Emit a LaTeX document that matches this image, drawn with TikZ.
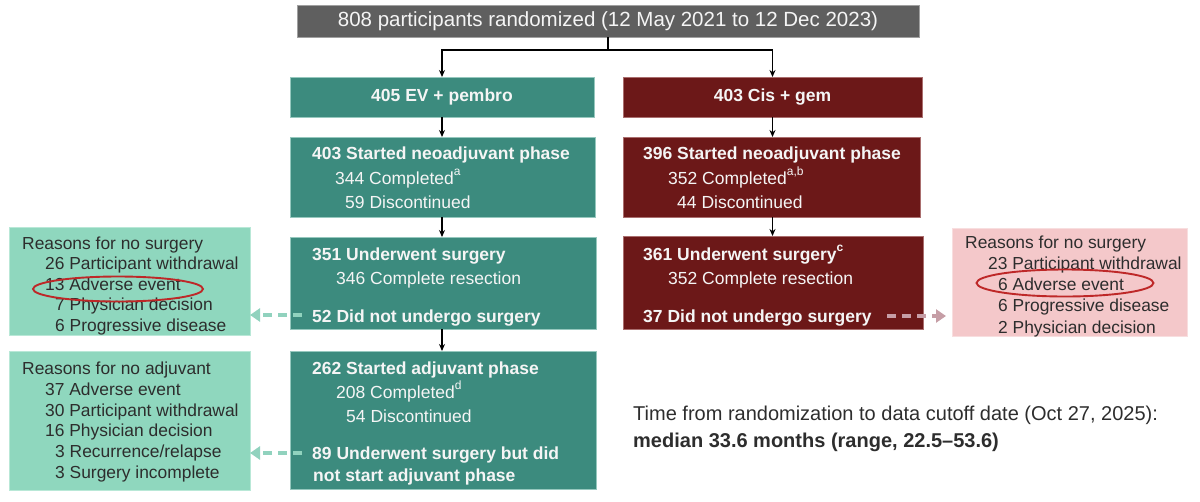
\documentclass[tikz,border=0pt]{standalone}
\usepackage{fontspec}
\setmainfont{Liberation Sans}
\usetikzlibrary{arrows.meta,shapes.geometric}
\definecolor{tealc}{RGB}{60,139,126}
\definecolor{tealedge}{RGB}{150,200,190}
\definecolor{redc}{RGB}{108,24,24}
\definecolor{rededge}{RGB}{170,110,110}
\definecolor{grayc}{RGB}{95,95,95}
\definecolor{grayedge}{RGB}{160,160,160}
\definecolor{mintc}{RGB}{143,215,190}
\definecolor{mintedge}{RGB}{185,232,215}
\definecolor{pinkc}{RGB}{244,200,202}
\definecolor{pinkedge}{RGB}{248,222,223}
\definecolor{dashLc}{RGB}{145,210,190}
\definecolor{dashRc}{RGB}{198,158,166}
\definecolor{ellc}{RGB}{190,40,40}
\definecolor{txtc}{RGB}{45,45,45}
\definecolor{wtxt}{RGB}{245,245,245}
\newcommand{\supmark}[1]{\raisebox{0.5em}{\fontsize{12}{12}\selectfont #1}}
\begin{document}
\begin{tikzpicture}[x=1pt,y=-1pt,
  box/.style={rectangle, inner sep=0pt, outer sep=0pt},
  topbox/.style={box, fill=grayc, draw=grayedge, line width=0.6pt, text=wtxt, font=\fontsize{20.5}{24}\selectfont},
  tealbox/.style={box, fill=tealc, draw=tealedge, line width=0.6pt, text=wtxt, font=\fontsize{17.5}{21}\selectfont\bfseries},
  redbox/.style={box, fill=redc, draw=rededge, line width=0.6pt, text=wtxt, font=\fontsize{17.5}{21}\selectfont\bfseries},
  mintbox/.style={box, fill=mintc, draw=mintedge, line width=0.8pt},
  pinkbox/.style={box, fill=pinkc, draw=pinkedge, line width=0.8pt},
  wt/.style={anchor=base west, inner sep=0pt, text=wtxt, font=\fontsize{17.5}{21}\selectfont},
  wb/.style={anchor=base west, inner sep=0pt, text=wtxt, font=\fontsize{17.5}{21}\selectfont\bfseries},
  rt/.style={anchor=base west, inner sep=0pt, text=txtc, font=\fontsize{17.4}{21}\selectfont},
  ct/.style={anchor=base west, inner sep=0pt, text=txtc, font=\fontsize{20}{27}\selectfont},
  arr/.style={-{Stealth[length=7pt,width=6pt]}, line width=1.3pt, black},
  dashL/.style={draw=dashLc, line width=3.2pt, dash pattern=on 9pt off 6pt, -{Triangle[length=10pt,width=13pt]}},
  dashR/.style={draw=dashRc, line width=3.2pt, dash pattern=on 9pt off 6pt, -{Triangle[length=10pt,width=13pt]}},
  ring/.style={draw=ellc, line width=1.9pt, ellipse, inner sep=0pt},
]
\useasboundingbox (0,0) rectangle (1200,501);

% main boxes
\node[topbox, minimum width=622pt, minimum height=32pt] (top) at (608,21) {808 participants randomized (12 May 2021 to 12 Dec 2023)};
\node[tealbox, minimum width=304pt, minimum height=40pt] (arm1) at (442,97) {405 EV + pembro};
\node[redbox, minimum width=299pt, minimum height=40pt] (arm2) at (772.5,97) {403 Cis + gem};
\node[tealbox, minimum width=305pt, minimum height=80pt] (neo1) at (442.5,177) {};
\node[redbox, minimum width=297pt, minimum height=80pt] (neo2) at (771.5,177) {};
\node[tealbox, minimum width=306pt, minimum height=92pt] (surg1) at (443,283) {};
\node[redbox, minimum width=300pt, minimum height=93pt] (surg2) at (773,282.5) {};
\node[tealbox, minimum width=306pt, minimum height=138pt] (adj1) at (443,420) {};

% reason boxes
\node[mintbox, minimum width=241pt, minimum height=108pt] (r1) at (129.5,281) {};
\node[mintbox, minimum width=241pt, minimum height=139pt] (r2) at (129.5,420.5) {};
\node[pinkbox, minimum width=235pt, minimum height=108pt] (r3) at (1069.5,282) {};

% connectors
\coordinate (br) at (608,50);
\draw[line width=1.3pt] (top.south) -- (br);
\draw[arr] (br) -| (arm1.north);
\draw[arr] (br) -| (arm2.north);
\draw[arr] (arm1.south) -- (arm1.south |- neo1.north);
\draw[arr] (arm2.south) -- (arm2.south |- neo2.north);
\draw[arr] (arm1.south |- neo1.south) -- (arm1.south |- surg1.north);
\draw[arr] (arm2.south |- neo2.south) -- (arm2.south |- surg2.north);
\draw[arr] (arm1.south |- surg1.south) -- (arm1.south |- adj1.north);

% neoadjuvant texts
\node[wb] (n1a) at (312,159) {403 Started neoadjuvant phase};
\node[wt] (n1b) at (335,184) {344 Completed\supmark{a}};
\node[wt] (n1c) at (345,208) {59 Discontinued};
\node[wb] (n2a) at (643,159) {396 Started neoadjuvant phase};
\node[wt] (n2b) at (668,184) {352 Completed\supmark{a,b}};
\node[wt] (n2c) at (677,208) {44 Discontinued};

% surgery texts
\node[wb] (s1a) at (312,260) {351 Underwent surgery};
\node[wt] (s1b) at (336,284) {346 Complete resection};
\node[wb] (s1c) at (312,322) {52 Did not undergo surgery};
\node[wb] (s2a) at (643,260) {361 Underwent surgery\supmark{c}};
\node[wt] (s2b) at (668,284) {352 Complete resection};
\node[wb] (s2c) at (643,322) {37 Did not undergo surgery};

% adjuvant texts
\node[wb] (a1a) at (312,374) {262 Started adjuvant phase};
\node[wt] (a1b) at (336,398) {208 Completed\supmark{d}};
\node[wt] (a1c) at (346,422) {54 Discontinued};
\node[wb] (a1d) at (312,459) {89 Underwent surgery but did};
\node[wb] (a1e) at (313,481) {not start adjuvant phase};

% reason texts left 1
\node[rt] (l1a) at (22,249) {Reasons for no surgery};
\node[rt] (l1b) at (45,269.5) {26 Participant withdrawal};
\node[rt] (l1c) at (45,290) {13 Adverse event};
\node[rt] (l1d) at (55,310.5) {7 Physician decision};
\node[rt] (l1e) at (55,331) {6 Progressive disease};

% reason texts left 2
\node[rt] (l2a) at (22,374) {Reasons for no adjuvant};
\node[rt] (l2b) at (45,395) {37 Adverse event};
\node[rt] (l2c) at (45,416) {30 Participant withdrawal};
\node[rt] (l2d) at (45,436.5) {16 Physician decision};
\node[rt] (l2e) at (55,457) {3 Recurrence/relapse};
\node[rt] (l2f) at (55,478) {3 Surgery incomplete};

% reason texts right
\node[rt] (p1) at (965,248) {Reasons for no surgery};
\node[rt] (p2) at (988,269) {23 Participant withdrawal};
\node[rt] (p3) at (998,290) {6 Adverse event};
\node[rt] (p4) at (998,311.5) {6 Progressive disease};
\node[rt] (p5) at (998,333) {2 Physician decision};

% highlight ellipses
\node[ring, minimum width=170pt, minimum height=25pt] (e1) at (118,289) {};
\node[ring, minimum width=177pt, minimum height=27pt] (e2) at (1065,283) {};

% dashed arrows
\coordinate (d1) at (302,315);
\coordinate (d2) at (302,453);
\coordinate (d3) at (887,316);
\draw[dashL] (d1) -- (r1.east |- d1);
\draw[dashL] (d2) -- (r2.east |- d2);
\draw[dashR] (d3) -- ([xshift=-6pt]r3.west |- d3);

% cutoff text
\node[ct] (c1) at (633,420) {Time from randomization to data cutoff date (Oct 27, 2025):};
\node[ct, font=\fontsize{20}{27}\selectfont\bfseries] (c2) at (633,447) {median 33.6 months (range, 22.5–53.6)};
\end{tikzpicture}
\end{document}
